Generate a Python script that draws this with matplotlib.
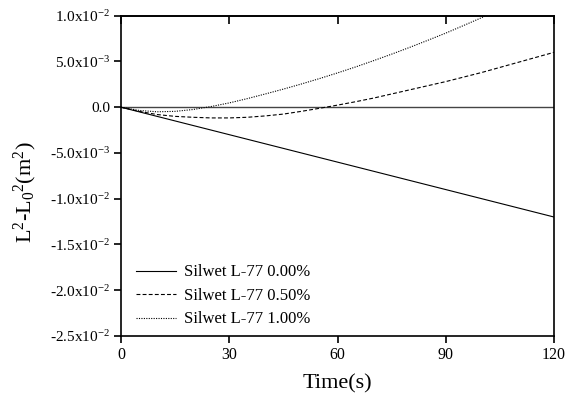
import matplotlib
matplotlib.use("Agg")
import matplotlib.pyplot as plt

plt.rcParams['font.family'] = ['Liberation Serif', 'DejaVu Serif']
plt.rcParams['mathtext.fontset'] = 'custom'
plt.rcParams['mathtext.rm'] = 'Liberation Serif'
plt.rcParams['mathtext.it'] = 'Liberation Serif:italic'
plt.rcParams['mathtext.bf'] = 'Liberation Serif:bold'

# ---- data ----
t_solid = [0, 30, 60, 90, 120]
y_solid = [0.0, -3.0e-3, -6.0e-3, -9.0e-3, -1.2e-2]

t_dash = [0, 5, 10, 15, 20, 25, 30, 35, 40, 45, 50, 55, 60, 65, 70, 75,
          80, 85, 90, 95, 100, 105, 110, 115, 120]
y_dash = [0.0, -0.45e-3, -0.8e-3, -1.0e-3, -1.1e-3, -1.17e-3, -1.17e-3,
          -1.1e-3, -0.95e-3, -0.75e-3, -0.45e-3, -0.12e-3, 0.23e-3, 0.6e-3,
          1.0e-3, 1.45e-3, 1.9e-3, 2.35e-3, 2.8e-3, 3.3e-3, 3.8e-3, 4.35e-3,
          4.9e-3, 5.45e-3, 6.0e-3]

t_dot = [0, 5, 10, 15, 20, 25, 30, 35, 40, 45, 50, 55, 60, 65, 70, 75,
         80, 85, 90, 95, 100, 102]
y_dot = [0.0, -0.35e-3, -0.5e-3, -0.45e-3, -0.25e-3, 0.08e-3, 0.47e-3,
         0.94e-3, 1.45e-3, 1.98e-3, 2.54e-3, 3.13e-3, 3.75e-3, 4.4e-3,
         5.09e-3, 5.8e-3, 6.54e-3, 7.31e-3, 8.1e-3, 8.94e-3, 9.8e-3, 10.15e-3]

labels = ["Silwet L-77 0.00%", "Silwet L-77 0.50%", "Silwet L-77 1.00%"]

x_ticks = [0, 30, 60, 90, 120]
y_ticks = [1.0e-2, 5.0e-3, 0.0, -5.0e-3, -1.0e-2, -1.5e-2, -2.0e-2, -2.5e-2]
y_tick_labels = ["1.0x10$^{-2}$", "5.0x10$^{-3}$", "0.0", "-5.0x10$^{-3}$",
                 "-1.0x10$^{-2}$", "-1.5x10$^{-2}$", "-2.0x10$^{-2}$",
                 "-2.5x10$^{-2}$"]

fig = plt.figure(figsize=(5.74, 4.03), dpi=100)
ax = fig.add_axes([0.2108, 0.1663, 0.7544, 0.7947])

ax.axhline(0, color='#444444', lw=1.0, zorder=1)
ax.plot(t_solid, y_solid, color='black', lw=0.8, ls='-', label=labels[0])
ax.plot(t_dash, y_dash, color='black', lw=0.8, ls=(0, (3.5, 2)), label=labels[1])
ax.plot(t_dot, y_dot, color='black', lw=0.8, ls=(0, (1, 1.2)), label=labels[2])

ax.set_xlim(0, 120)
ax.set_ylim(-2.5e-2, 1.0e-2)
ax.set_xticks(x_ticks)
ax.set_xticklabels([str(v) for v in x_ticks])
ax.set_yticks(y_ticks)
ax.set_yticklabels(y_tick_labels)

for s in ax.spines.values():
    s.set_linewidth(1.2)
ax.tick_params(axis='both', which='major', labelsize=11.5, width=1.2,
               length=5, direction='out', pad=3)
ax.tick_params(axis='y', labelsize=11)
ax.tick_params(axis='x', top=False)
# top ticks inward
sec = ax.secondary_xaxis('top')
sec.set_xticks(x_ticks)
sec.tick_params(direction='in', length=6, width=1.2, labeltop=False)
sec.set_xticklabels([])
sec.spines['top'].set_linewidth(1.2)

ax.set_xlabel("Time(s)", fontsize=16, labelpad=8)
ax.set_ylabel("L$^{2}$-L$_{0}$$^{2}$(m$^{2}$)", fontsize=16)
ax.yaxis.set_label_coords(-0.19, 0.45)

leg = ax.legend(loc='lower left', frameon=False, fontsize=12,
                handlelength=2.4, handletextpad=0.5, labelspacing=0.45,
                bbox_to_anchor=(0.0, -0.02), borderaxespad=0.5)

fig.savefig("out.png", dpi=100)
